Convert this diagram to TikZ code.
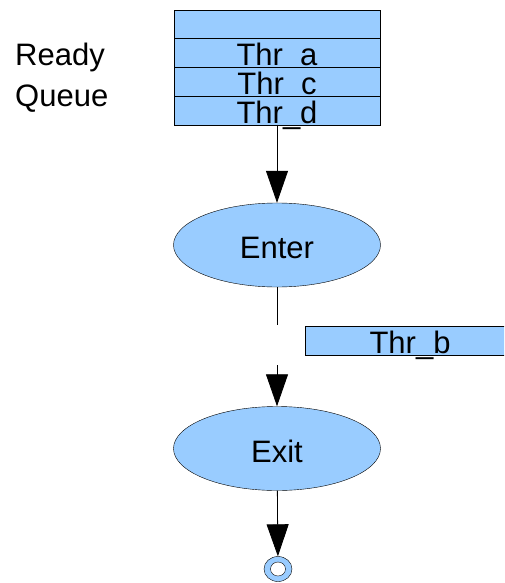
\documentclass[tikz,border=0pt]{standalone}
\usepackage{fontspec}
\setmainfont{Liberation Sans}
\usetikzlibrary{positioning, shapes.geometric, arrows.meta}
\definecolor{qblue}{HTML}{99CCFF}

\begin{document}
\begin{tikzpicture}[x=1pt, y=-1pt,
    bigtext/.style={font=\fontsize{31}{41}\selectfont},
    row/.style={rectangle, draw, fill=qblue, bigtext, minimum width=206pt,
      inner sep=0pt, outer sep=0pt, text height=27pt, text depth=1.7pt},
    stage/.style={ellipse, draw, fill=qblue, bigtext, minimum width=207pt,
      minimum height=84pt, inner sep=0pt, text height=27pt, text depth=0pt},
    arrow/.style={-{Triangle[length=32pt, width=22pt]}, line width=0.8pt}
  ]
  \clip (0,0) rectangle (504,583);

  % ready queue
  \node[bigtext, anchor=west, align=left, inner sep=0pt] (rq) at (15,78) {Ready\\Queue};
  \node[row] (q0) at (277,24.3) {};
  \node[row, below=0pt of q0] (qa) {Thr\_a};
  \node[row, below=0pt of qa] (qc) {Thr\_c};
  \node[row, below=0pt of qc] (qd) {Thr\_d};

  % stages
  \node[stage] (enter) at (277,245) {Enter};
  \node[stage] (exit) at (277,448.5) {Exit};
  \node[row, minimum width=210pt] (tb) at (410,341) {Thr\_b};

  \coordinate (gapa) at (277,325);
  \coordinate (gapb) at (277,365);

  % sink
  \node[ellipse, draw, fill=qblue, minimum width=28pt, minimum height=25pt] (sink) at (278,569) {};
  \node[ellipse, draw, fill=white, minimum width=15pt, minimum height=14pt] (hole) at (sink) {};

  \draw[arrow] (qd) -- (enter);
  \draw[line width=0.8pt] (enter) -- (gapa);
  \draw[arrow] (gapb) -- (exit);
  \draw[arrow] (exit) -- (sink);
\end{tikzpicture}
\end{document}
